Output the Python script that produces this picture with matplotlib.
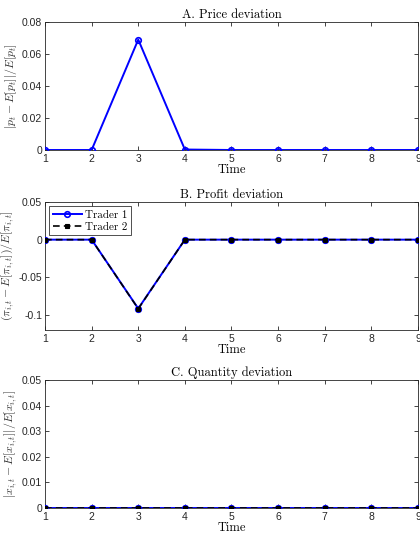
import numpy as np
import matplotlib.pyplot as plt

plt.rcParams['mathtext.fontset'] = 'cm'
plt.rcParams['font.family'] = ['Liberation Sans', 'DejaVu Sans']

# Data
time = [1, 2, 3, 4, 5, 6, 7, 8, 9]
price_dev = [0, 0, 0.0690, 0.0003, 0, 0, 0, 0, 0]
profit_t1 = [0, 0, -0.0915, 0, 0, 0, 0, 0, 0]
profit_t2 = [0, 0, -0.0918, 0, 0, 0, 0, 0, 0]
qty_t1 = [0, 0, 0, 0, 0, 0, 0, 0, 0]
qty_t2 = [0, 0, 0, 0, 0, 0, 0, 0, 0]

titles = ['A. Price deviation', 'B. Profit deviation', 'C. Quantity deviation']
ylabels = [r'$|p_t - E[p_t]|/E[p_t]$',
           r'$(\pi_{i,t} - E[\pi_{i,t}])/E[\pi_{i,t}]$',
           r'$|x_{i,t} - E[x_{i,t}]|/E[x_{i,t}]$']
serif = 'cmr10'

fig = plt.figure(figsize=(4.2, 5.36), dpi=100)
W, H = 420.0, 536.0
boxes = [(45, 22, 418, 150), (45, 202, 418, 330), (45, 380, 418, 508)]
axes = []
for (l, t, r, b) in boxes:
    axes.append(fig.add_axes([l / W, 1 - b / H, (r - l) / W, (b - t) / H]))

blue = '#0000ff'
tick_col = '#262626'
c_style = dict(color=blue, lw=1.4, marker='o', ms=4, mfc='none', mew=1.2)
s_style = dict(color='black', lw=1.2, ls=(0, (4, 2.5)), marker='s', ms=2.8, mfc='black', mew=0.8)

# A. Price
ax = axes[0]
ax.plot(time, price_dev, **c_style)
ax.set_ylim(0, 0.08)
ax.set_yticks([0, 0.02, 0.04, 0.06, 0.08])
ax.set_yticklabels(['0', '0.02', '0.04', '0.06', '0.08'])

# B. Profit
ax = axes[1]
ax.plot(time, profit_t1, label='Trader 1', **c_style)
ax.plot(time, profit_t2, label='Trader 2', **s_style)
ax.set_ylim(-0.12, 0.05)
ax.set_yticks([-0.1, -0.05, 0, 0.05])
ax.set_yticklabels(['-0.1', '-0.05', '0', '0.05'])
leg = ax.legend(loc='upper left', prop={'family': serif, 'size': 8}, frameon=True, fancybox=False,
                borderpad=0.3, handlelength=2.6, handletextpad=0.3, labelspacing=0.2, borderaxespad=0.4)
leg.get_frame().set_edgecolor('black')
leg.get_frame().set_linewidth(0.6)

# C. Quantity
ax = axes[2]
ax.plot(time, qty_t1, **c_style)
ax.plot(time, qty_t2, **s_style)
ax.set_ylim(0, 0.05)
ax.set_yticks([0, 0.01, 0.02, 0.03, 0.04, 0.05])
ax.set_yticklabels(['0', '0.01', '0.02', '0.03', '0.04', '0.05'])

for ax, ttl, yl in zip(axes, titles, ylabels):
    ax.set_xlim(1, 9)
    ax.set_xticks(time)
    ax.set_title(ttl, fontsize=9, pad=3, color='black', family=serif)
    ax.set_xlabel('Time', fontsize=9, labelpad=0, color='black', family=serif)
    ax.set_ylabel(yl, fontsize=8.5, labelpad=2, color='#333333')
    ax.tick_params(direction='in', top=True, right=True, labelsize=7.5, colors=tick_col,
                   length=3, width=0.6, pad=2)
    ax.tick_params(axis='x', pad=3)
    for s in ax.spines.values():
        s.set_linewidth(0.6)
        s.set_color(tick_col)
        s.set_zorder(0)

fig.savefig('out.png', dpi=100)
